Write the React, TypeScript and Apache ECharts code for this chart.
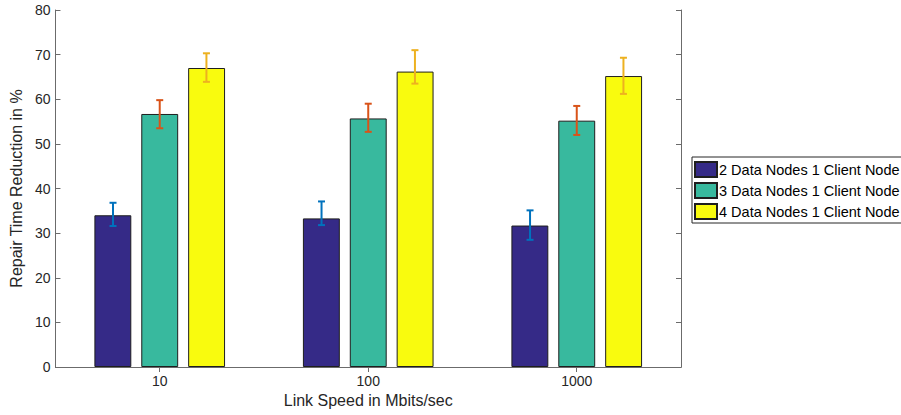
import React, { useEffect, useRef } from "react";
import * as echarts from "echarts";

const categories = ["10", "100", "1000"];
const seriesNames = [
  "2 Data Nodes 1 Client Node",
  "3 Data Nodes 1 Client Node",
  "4 Data Nodes 1 Client Node",
];
const values2 = [34.0, 33.3, 31.7];
const values3 = [56.7, 55.7, 55.2];
const values4 = [67.0, 66.2, 65.2];
const low2 = [31.6, 31.8, 28.5];
const high2 = [36.8, 37.1, 35.1];
const low3 = [53.5, 52.7, 52.0];
const high3 = [59.8, 59.0, 58.5];
const low4 = [63.9, 63.5, 61.2];
const high4 = [70.3, 71.0, 69.3];

const barColors = ["#352a87", "#38b99e", "#f9fb0e"];
const errColors = ["#0072bd", "#d95319", "#edb120"];
const FONT = "'Liberation Sans', Arial, Helvetica, sans-serif";
const AXIS_COLOR = "#6b6b6b";
const TEXT_COLOR = "#262626";

export default function App() {
  const ref = useRef<HTMLDivElement>(null);
  useEffect(() => {
    if (!ref.current) return;
    const chart = echarts.init(ref.current, null, { renderer: "svg" });
    const values = [values2, values3, values4];
    const lows = [low2, low3, low4];
    const highs = [high2, high3, high4];
    const offsets = [-0.224, 0, 0.224];

    const barSeries = values.map((v, i) => ({
      name: seriesNames[i],
      type: "bar",
      data: v,
      barWidth: "17.7%",
      barGap: "27%",
      itemStyle: { color: barColors[i], borderColor: "#1e1e1e", borderWidth: 1 },
      z: 2,
    }));

    const errSeries = values.map((_, i) => ({
      type: "custom",
      name: "err" + i,
      silent: true,
      z: 5,
      data: categories.map((_, j) => [j, lows[i][j], highs[i][j]]),
      encode: { x: 0, y: [1, 2] },
      renderItem: (params: any, api: any) => {
        const idx = api.value(0);
        const band = api.size([1, 0])[0];
        const lo = api.coord([idx, api.value(1)]);
        const hi = api.coord([idx, api.value(2)]);
        const x = lo[0] + band * offsets[i];
        const hw = 3.5;
        const style = { stroke: errColors[i], lineWidth: 2, fill: "none" };
        return {
          type: "group",
          children: [
            { type: "line", shape: { x1: x, y1: lo[1], x2: x, y2: hi[1] }, style },
            { type: "line", shape: { x1: x - hw, y1: lo[1], x2: x + hw, y2: lo[1] }, style },
            { type: "line", shape: { x1: x - hw, y1: hi[1], x2: x + hw, y2: hi[1] }, style },
          ],
        };
      },
    }));

    chart.setOption({
      animation: false,
      backgroundColor: "#ffffff",
      textStyle: { fontFamily: FONT },
      grid: { left: 54, right: 220, top: 10, bottom: 48, containLabel: false },
      legend: {
        data: seriesNames,
        orient: "vertical",
        left: 692,
        top: 157,
        itemWidth: 22,
        itemHeight: 15,
        itemGap: 4,
        padding: [4, 2, 3, 2],
        borderColor: "#262626",
        borderWidth: 1,
        icon: "rect",
        textStyle: { fontFamily: FONT, fontSize: 14.5, color: "#000", padding: [0, 0, 0, -3] },
      },
      xAxis: [
        {
          type: "category",
          data: categories,
          position: "bottom",
          axisLine: { show: true, lineStyle: { color: AXIS_COLOR } },
          axisTick: { show: true, inside: true, length: 5, alignWithLabel: true, lineStyle: { color: AXIS_COLOR } },
          axisLabel: { color: TEXT_COLOR, fontSize: 14, fontFamily: FONT, margin: 7 },
          name: "Link Speed in Mbits/sec",
          nameLocation: "middle",
          nameGap: 25,
          nameTextStyle: { color: TEXT_COLOR, fontSize: 16, fontFamily: FONT },
        },
        {
          type: "category",
          data: categories,
          position: "top",
          axisLine: { show: true, lineStyle: { color: AXIS_COLOR } },
          axisTick: { show: true, inside: true, length: 5, alignWithLabel: true, lineStyle: { color: AXIS_COLOR } },
          axisLabel: { show: false },
        },
      ],
      yAxis: [
        {
          type: "value",
          min: 0,
          max: 80,
          interval: 10,
          position: "left",
          splitLine: { show: false },
          axisLine: { show: true, lineStyle: { color: AXIS_COLOR } },
          axisTick: { show: true, inside: true, length: 5, lineStyle: { color: AXIS_COLOR } },
          axisLabel: { color: TEXT_COLOR, fontSize: 14, fontFamily: FONT, margin: 5 },
          name: "Repair Time Reduction in %",
          nameLocation: "middle",
          nameGap: 26,
          nameTextStyle: { color: TEXT_COLOR, fontSize: 16, fontFamily: FONT },
        },
        {
          type: "value",
          min: 0,
          max: 80,
          interval: 10,
          position: "right",
          splitLine: { show: false },
          axisLine: { show: true, lineStyle: { color: AXIS_COLOR } },
          axisTick: { show: true, inside: true, length: 5, lineStyle: { color: AXIS_COLOR } },
          axisLabel: { show: false },
        },
      ],
      series: [...barSeries, ...errSeries],
    });
    return () => chart.dispose();
  }, []);
  return (
    <div
      ref={ref}
      style={{ position: "fixed", left: 0, top: 0, width: 901, height: 415, background: "#fff" }}
    />
  );
}
